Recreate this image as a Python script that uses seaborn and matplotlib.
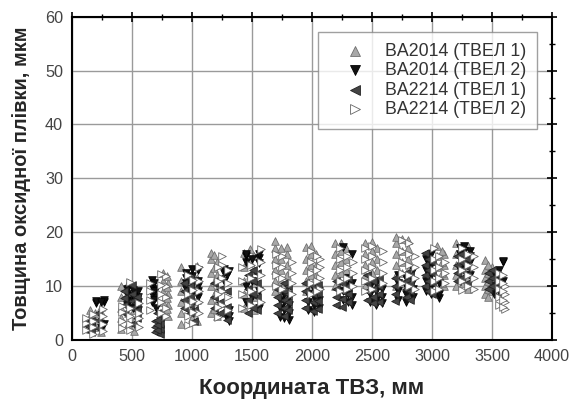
import pandas as pd
import matplotlib
matplotlib.use("Agg")
import matplotlib.pyplot as plt
import seaborn as sns
from matplotlib.ticker import MultipleLocator

# Дані: для кожної серії - координати стовпчиків (мм) і значення товщини (мкм) у кожному стовпчику

ba2014_t1_x = [150, 240, 410, 520, 760, 800, 910, 1000, 1160, 1210, 1430, 1520, 1690, 1790,
               1950, 2030, 2190, 2280, 2440, 2540, 2700, 2800, 3040, 3100, 3200, 3300, 3440, 3500,
               195, 465, 790, 1040, 1185, 1480, 1740, 1990, 2240, 2500, 2750, 3080, 3260, 3470]
ba2014_t1_y = [[2.0, 3.2, 4.5, 5.6], [1.5, 2.8, 4.0, 5.2, 6.2],
               [2.0, 4.0, 6.0, 8.0, 10.0], [1.6, 3.5, 5.5, 7.5, 9.5],
               [5.0, 7.0, 9.0, 11.0, 12.5], [4.5, 6.5, 8.5, 10.5],
               [3.0, 5.0, 7.0, 9.0, 11.0, 13.5], [4.0, 6.0, 8.0, 10.0, 12.5],
               [5.0, 7.5, 10.0, 12.5, 15.0, 16.2], [4.5, 7.0, 9.5, 12.0, 14.5],
               [6.0, 8.5, 11.0, 13.5, 16.2], [5.5, 8.0, 10.5, 13.0, 15.5],
               [9.0, 11.0, 13.0, 15.0, 17.0, 18.4], [8.0, 10.0, 12.0, 14.0, 16.0, 17.2],
               [9.0, 11.0, 13.0, 15.0, 17.2], [10.0, 12.0, 14.0, 16.0],
               [10.0, 12.0, 14.0, 16.0, 18.0], [11.0, 13.0, 15.0, 17.0],
               [10.0, 12.0, 14.0, 16.0, 18.0], [11.0, 13.0, 15.0, 17.0],
               [10.0, 12.0, 14.0, 16.0, 18.0, 19.2], [11.0, 13.0, 15.0, 17.0, 18.5],
               [9.5, 11.5, 13.5, 15.5, 17.4], [10.0, 12.0, 14.0, 16.0],
               [10.0, 12.0, 14.0, 16.0, 18.0], [9.5, 11.5, 13.5, 15.5, 17.5],
               [8.5, 10.0, 11.5, 13.0, 14.8], [9.0, 10.5, 12.0, 13.5],
               [2.4, 3.8, 5.0], [3.0, 5.0, 7.0, 9.0, 10.5], [5.8, 7.8, 9.8, 11.8],
               [3.5, 5.5, 7.5, 9.5, 11.5, 13.8], [5.8, 8.3, 10.8, 13.3, 15.8],
               [7.0, 9.5, 12.0, 14.5, 16.8], [9.0, 11.0, 13.0, 15.0, 17.0],
               [10.0, 12.0, 14.0, 16.0, 17.5], [10.5, 12.5, 14.5, 16.5, 18.0],
               [10.5, 12.5, 14.5, 16.5, 18.2], [10.5, 12.5, 14.5, 16.5, 18.8],
               [10.5, 12.5, 14.5, 16.5], [10.5, 12.5, 14.5, 16.5], [8.0, 9.5, 11.0, 12.5, 14.0]]

ba2014_t2_x = [200, 270, 460, 550, 670, 700, 950, 1050, 1270, 1310, 1450, 1560, 1730, 1810,
               1970, 2060, 2260, 2330, 2480, 2580, 2720, 2840, 2950, 3060, 3230, 3320, 3520, 3590,
               240, 505, 685, 1000, 1290, 1500, 1770, 2020, 2300, 2530, 2780, 2990, 3270, 3560]
ba2014_t2_y = [[6.8, 7.2], [7.0, 7.4, 3.0],
               [6.5, 7.5, 8.5, 9.5], [5.5, 7.0, 8.0, 9.0],
               [7.0, 8.5, 10.0, 11.2], [6.0, 8.0, 9.5],
               [8.5, 9.5, 10.5, 11.5, 12.5], [8.0, 9.0, 10.0, 11.0, 13.0],
               [12.5, 13.2, 11.0], [3.5, 4.5, 5.5, 12.8],
               [14.5, 15.5, 16.0, 10.0, 7.0], [14.2, 15.2, 16.0, 9.0, 6.0],
               [4.2, 6.0, 7.5], [3.8, 5.0, 6.5, 8.0],
               [5.5, 7.0, 8.5], [6.0, 7.5, 9.0],
               [17.2, 7.5, 9.0], [16.0, 6.5, 8.0, 10.5],
               [7.0, 8.5, 10.0], [6.8, 8.0, 9.5],
               [7.5, 9.0, 10.5, 12.0], [8.0, 9.5, 11.0, 13.0],
               [9.0, 11.0, 13.0, 15.0], [7.8, 8.5, 10.5],
               [15.0, 16.0, 17.0, 13.0], [14.5, 15.5, 16.5, 12.0],
               [8.5, 10.0, 12.5], [14.4, 14.6, 11.0],
               [7.1, 2.2], [6.0, 7.2, 8.2, 9.2], [7.5, 9.0, 10.5], [8.8, 10.2, 11.8, 13.2],
               [4.0, 5.0, 12.0], [15.0, 8.0, 11.0], [4.0, 5.5, 7.0, 8.5], [5.2, 6.5, 8.0, 9.5],
               [7.0, 8.5, 10.0, 11.5], [6.5, 7.5, 9.0, 10.5], [7.0, 8.5, 10.0, 11.5],
               [8.5, 10.0, 12.0, 14.0, 16.0], [15.5, 16.5, 17.5, 14.0], [9.0, 11.5, 13.0]]

ba2214_t1_x = [130, 220, 430, 500, 690, 730, 930, 1020, 1180, 1290, 1470, 1540, 1710, 1770,
               1940, 2010, 2200, 2300, 2460, 2560, 2690, 2780, 2940, 3000, 3210, 3290, 3470, 3540,
               160, 540, 710, 980, 1230, 1510, 1800, 2050, 2250, 2510, 2820, 2970, 3240, 3500]
ba2214_t1_y = [[1.8, 2.6, 3.4], [2.2, 3.8, 5.0],
               [5.0, 6.5, 7.8, 9.0], [3.0, 6.0, 7.2, 8.6, 10.2],
               [1.5, 2.5, 3.5], [1.2, 2.0, 3.0, 4.2],
               [6.0, 7.5, 9.0, 10.5], [3.5, 5.5, 7.0, 9.5],
               [6.0, 8.0, 10.5], [3.8, 5.0, 6.2, 9.0],
               [5.0, 7.5, 9.5, 12.0], [5.5, 8.0, 10.5, 12.5],
               [5.0, 6.5, 8.0, 9.5], [4.5, 6.0, 7.5, 9.0, 10.5],
               [6.0, 7.5, 9.0, 10.5], [5.4, 7.0, 8.5, 10.0],
               [6.5, 8.0, 9.5, 11.0], [7.0, 8.5, 10.0, 11.5],
               [7.5, 9.0, 10.5, 12.0], [7.0, 8.5, 10.0, 11.5],
               [7.2, 8.5, 10.0, 11.5], [8.0, 9.5, 11.0, 12.5],
               [10.0, 12.0, 14.0, 16.2], [8.5, 10.5, 12.5, 14.5],
               [11.0, 12.5, 14.0, 15.5], [10.5, 12.0, 13.5, 15.0],
               [9.5, 11.0, 12.5], [8.2, 9.5, 10.5, 12.0],
               [1.5, 2.8, 3.6], [4.0, 5.5, 7.0, 8.0], [1.8, 2.8, 3.8, 5.0],
               [5.0, 6.5, 8.0, 10.0, 11.5], [5.0, 7.0, 9.5, 11.5], [6.0, 8.5, 11.0, 13.0],
               [5.5, 7.0, 8.5, 10.0], [5.8, 7.2, 8.8, 10.2], [6.2, 7.6, 9.0, 10.5],
               [6.8, 8.0, 9.5, 11.0], [7.5, 9.0, 10.5, 12.0], [9.0, 11.0, 13.0, 15.0],
               [11.5, 13.0, 14.5, 16.0], [10.0, 11.5, 13.0]]

ba2214_t2_x = [175, 260, 480, 560, 650, 780, 970, 1060, 1250, 1300, 1490, 1575, 1750, 1830,
               1990, 2070, 2230, 2340, 2500, 2590, 2750, 2860, 3020, 3110, 3250, 3350, 3560, 3610,
               120, 420, 740, 1010, 1220, 1420, 1700, 2040, 2290, 2440, 2810, 3060, 3300, 3590]
ba2214_t2_y = [[1.2, 2.4, 3.6, 4.8], [1.6, 3.0, 4.4, 5.8],
               [1.8, 3.0, 4.5, 6.0, 10.8], [2.5, 4.0, 5.0, 6.8],
               [5.5, 7.5, 9.0, 10.5], [4.5, 6.0, 8.0, 10.0, 11.8],
               [2.8, 4.5, 6.5, 8.5, 12.0], [5.0, 7.0, 9.0, 11.0, 13.5],
               [6.5, 9.0, 11.5, 14.0, 15.5], [5.5, 8.0, 10.5, 13.0],
               [6.5, 9.0, 11.5, 14.0], [7.0, 9.5, 12.0, 14.5, 16.8],
               [9.5, 11.5, 13.5, 15.5], [8.5, 10.5, 12.5, 14.5],
               [8.5, 10.5, 12.5, 14.5, 16.5], [9.5, 11.5, 13.5, 15.0],
               [9.0, 11.0, 13.0, 15.0, 17.0], [10.0, 12.5, 14.5],
               [9.5, 11.5, 13.5, 15.5, 17.5], [10.5, 12.5, 14.5, 16.5],
               [10.5, 12.5, 14.5, 16.5, 18.5], [9.5, 11.5, 13.5, 15.5],
               [9.0, 11.0, 13.0, 15.0, 17.0], [10.5, 12.5, 14.5],
               [9.2, 11.0, 13.0, 15.0, 17.0], [9.5, 11.5, 13.5, 15.5],
               [6.5, 8.0, 9.5, 11.0, 12.5], [5.8, 7.0, 8.5, 10.0],
               [1.8, 3.2, 4.0], [2.2, 3.6, 5.2, 6.4], [5.0, 7.0, 8.5, 10.2, 12.2],
               [3.2, 5.2, 7.2, 9.2, 11.2], [4.2, 6.2, 8.5, 11.0, 13.5], [6.0, 8.5, 11.0, 13.5],
               [10.0, 12.0, 14.0, 16.0], [9.0, 11.0, 13.0, 15.5], [9.5, 11.5, 13.5, 15.5],
               [9.0, 11.0, 13.0, 15.0, 17.0], [10.0, 12.0, 14.0, 16.0, 18.0],
               [9.5, 11.5, 13.5, 15.5], [10.0, 12.0, 14.0, 16.0], [6.2, 7.5, 9.0, 10.5, 12.0]]

series_names = ["BA2014 (ТВЕЛ 1)", "BA2014 (ТВЕЛ 2)", "BA2214 (ТВЕЛ 1)", "BA2214 (ТВЕЛ 2)"]


def to_frame(xs, ys_list):
    rows = []
    for x, ys in zip(xs, ys_list):
        for y in ys:
            rows.append((x, y))
    return pd.DataFrame(rows, columns=["coord", "thick"])


frames = [to_frame(ba2014_t1_x, ba2014_t1_y), to_frame(ba2014_t2_x, ba2014_t2_y),
          to_frame(ba2214_t1_x, ba2214_t1_y), to_frame(ba2214_t2_x, ba2214_t2_y)]

# стилі маркерів
markers = ["^", "v", "<", ">"]
faces = ["#a8a8a8", "#111111", "#444444", "white"]
edges = ["#6f6f6f", "#000000", "#222222", "#666666"]

sns.set_style("white")
plt.rcParams["font.family"] = ["Liberation Sans", "DejaVu Sans"]

fig = plt.figure(figsize=(5.74, 4.08), dpi=100)
ax = fig.add_axes([0.1254, 0.1667, 0.8363, 0.7924])

for df, name, m, fc, ec in zip(frames, series_names, markers, faces, edges):
    sns.scatterplot(data=df, x="coord", y="thick", marker=m, color=fc, edgecolor=ec,
                    linewidth=0.6, s=30, label=name, ax=ax, zorder=3)

ax.set_xlim(0, 4000)
ax.set_ylim(0, 60)
ax.xaxis.set_major_locator(MultipleLocator(500))
ax.xaxis.set_minor_locator(MultipleLocator(250))
ax.yaxis.set_major_locator(MultipleLocator(10))
ax.yaxis.set_minor_locator(MultipleLocator(5))
ax.grid(True, which="major", color="#9a9a9a", linewidth=1.0, zorder=0)
ax.set_axisbelow(True)

for sp in ax.spines.values():
    sp.set_color("black")
    sp.set_linewidth(1.5)

ax.tick_params(which="major", direction="inout", length=7, width=1.2, color="black",
               top=True, right=True, labelsize=11.7, labelcolor="#444444", pad=3)
ax.tick_params(which="minor", direction="inout", length=4, width=1.0, color="black",
               top=True, right=True)

ax.set_xlabel("Координата ТВЗ, мм", fontsize=16, fontweight="bold", labelpad=10)
ax.set_ylabel("Товщина оксидної плівки, мкм", fontsize=14.5, fontweight="bold", labelpad=10)

leg = ax.legend(loc="upper left", bbox_to_anchor=(0.5125, 0.953), borderaxespad=0,
                fontsize=12.8, frameon=True, fancybox=False, markerscale=1.3,
                handlelength=3.0, handletextpad=0.15, borderpad=0.6, labelspacing=0.14)
leg.get_frame().set_edgecolor("#888888")
leg.get_frame().set_linewidth(1.0)
for t in leg.get_texts():
    t.set_color("#333333")

fig.savefig("out.png", dpi=100)
